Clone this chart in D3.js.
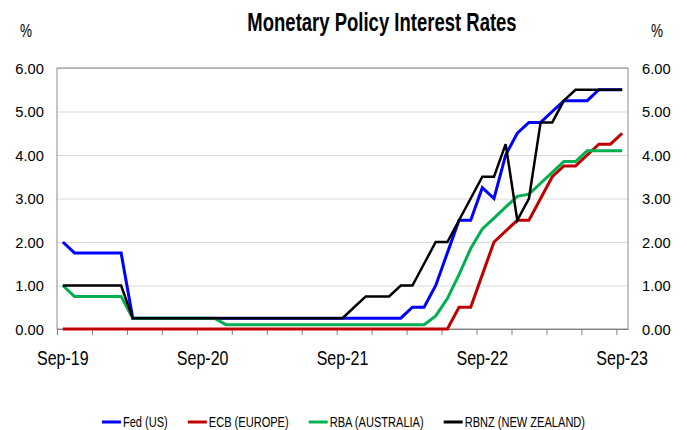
<!DOCTYPE html>
<html>
<head>
<meta charset="utf-8">
<script src="https://cdn.jsdelivr.net/npm/d3@7"></script>
<style>
  html, body { margin: 0; padding: 0; background: #fff; }
  svg { display: block; }
</style>
</head>
<body>
<div id="chart"></div>
<script>
// monthly observations, Sep-19 .. Sep-23
const months = d3.timeMonth.range(new Date(2019, 8, 1), new Date(2023, 9, 1));

const fed = [
  2.00, 1.75, 1.75, 1.75, 1.75, 1.75,
  0.25, 0.25, 0.25, 0.25, 0.25, 0.25, 0.25, 0.25, 0.25, 0.25, 0.25, 0.25,
  0.25, 0.25, 0.25, 0.25, 0.25, 0.25, 0.25, 0.25, 0.25, 0.25, 0.25, 0.25,
  0.50, 0.50, 1.00, 1.75, 2.50, 2.50, 3.25, 3.00, 4.00, 4.50, 4.75, 4.75,
  5.00, 5.25, 5.25, 5.25, 5.50, 5.50, 5.50
];
const ecb = [
  0, 0, 0, 0, 0, 0, 0, 0, 0, 0, 0, 0, 0, 0, 0, 0, 0, 0,
  0, 0, 0, 0, 0, 0, 0, 0, 0, 0, 0, 0, 0, 0, 0, 0,
  0.50, 0.50, 1.25, 2.00, 2.25, 2.50, 2.50, 3.00, 3.50, 3.75, 3.75, 4.00,
  4.25, 4.25, 4.50
];
const rba = [
  1.00, 0.75, 0.75, 0.75, 0.75, 0.75,
  0.25, 0.25, 0.25, 0.25, 0.25, 0.25, 0.25, 0.25,
  0.10, 0.10, 0.10, 0.10, 0.10, 0.10, 0.10, 0.10, 0.10, 0.10, 0.10, 0.10,
  0.10, 0.10, 0.10, 0.10, 0.10, 0.10,
  0.30, 0.70, 1.25, 1.85, 2.30, 2.55, 2.80, 3.05, 3.10, 3.35, 3.60, 3.85,
  3.85, 4.10, 4.10, 4.10, 4.10
];
const rbnz = [
  1.00, 1.00, 1.00, 1.00, 1.00, 1.00,
  0.25, 0.25, 0.25, 0.25, 0.25, 0.25, 0.25, 0.25, 0.25, 0.25, 0.25, 0.25,
  0.25, 0.25, 0.25, 0.25, 0.25, 0.25, 0.25,
  0.50, 0.75, 0.75, 0.75, 1.00, 1.00, 1.50, 2.00, 2.00, 2.50, 3.00, 3.50,
  3.50, 4.25, 2.50, 3.00, 4.75, 4.75, 5.25, 5.50, 5.50, 5.50, 5.50, 5.50
];

const seriesNames = ['Fed (US)', 'ECB (EUROPE)', 'RBA (AUSTRALIA)', 'RBNZ (NEW ZEALAND)'];
const seriesColors = ['#0000ff', '#c00000', '#00b050', '#000000'];
const yTicks = [0, 1, 2, 3, 4, 5, 6];

const W = 687, H = 430;
const plot = { left: 57, top: 68, right: 628, bottom: 329 };
const FONT = "'Liberation Sans', Arial, sans-serif";

const svg = d3.select('#chart').append('svg').attr('width', W).attr('height', H);

const x = d3.scaleBand().domain(months).range([plot.left, plot.right]).padding(0);
const xEdge = d3.scaleLinear().domain([0, months.length]).range([plot.left, plot.right]);
const y = d3.scaleLinear().domain([0, 6]).range([plot.bottom, plot.top]);
const fmtMonth = d3.timeFormat('%b-%y');

// squeezed text: the source uses a narrow face
function label(parent, tx, ty, str, size, k, anchor, weight) {
  return parent.append('text')
    .attr('transform', `translate(${tx},${ty}) scale(${k},1)`)
    .attr('text-anchor', anchor || 'start')
    .attr('font-family', FONT)
    .attr('font-size', size)
    .attr('font-weight', weight || 'normal')
    .attr('fill', '#000')
    .text(str);
}

// gridlines
svg.append('g')
  .attr('transform', `translate(${plot.left},0)`)
  .call(d3.axisLeft(y).tickValues(yTicks).tickSize(-(plot.right - plot.left)).tickFormat(''))
  .call(g => g.select('.domain').remove())
  .call(g => g.selectAll('line').attr('stroke', '#d9d9d9').attr('stroke-width', 1));

// frame
svg.append('rect')
  .attr('x', plot.left).attr('y', plot.top)
  .attr('width', plot.right - plot.left).attr('height', plot.bottom - plot.top)
  .attr('fill', 'none').attr('stroke', '#8c8c8c').attr('stroke-width', 1);

// x tick marks every quarter, on category boundaries
svg.append('g')
  .attr('transform', `translate(0,${plot.bottom})`)
  .call(d3.axisBottom(xEdge).tickValues(d3.range(0, months.length, 3)).tickSizeInner(6).tickSizeOuter(0).tickFormat(''))
  .call(g => g.select('.domain').attr('stroke', '#808080'))
  .call(g => g.selectAll('line').attr('stroke', '#808080'));

// y labels both sides
const yLab = svg.append('g');
yTicks.forEach(v => {
  label(yLab, plot.left - 13, y(v) + 5.5, d3.format('.2f')(v), 15.5, 0.95, 'end');
  label(yLab, plot.right + 14, y(v) + 5.5, d3.format('.2f')(v), 15.5, 0.95, 'start');
});

// x labels every September
const xLab = svg.append('g');
months.forEach(m => {
  if (m.getMonth() === 8) label(xLab, x(m) + x.bandwidth() / 2, 365, fmtMonth(m), 20, 0.8, 'middle');
});

// lines
const series = [fed, ecb, rba, rbnz];
const line = d3.line()
  .x((d, i) => x(months[i]) + x.bandwidth() / 2)
  .y(d => y(d));

svg.append('g')
  .selectAll('path')
  .data(series)
  .join('path')
  .attr('d', d => line(d))
  .attr('fill', 'none')
  .attr('stroke', (d, i) => seriesColors[i])
  .attr('stroke-width', (d, i) => i === 3 ? 2.5 : 3)
  .attr('stroke-linejoin', 'miter');

// title and unit markers
label(svg, 382, 31, 'Monetary Policy Interest Rates', 25, 0.74, 'middle', 'bold');
label(svg, 26, 37, '%', 18, 0.75, 'middle');
label(svg, 657, 37, '%', 18, 0.75, 'middle');

// legend
const leg = svg.append('g');
const items = seriesNames.map((name, i) => {
  const g = leg.append('g');
  g.append('line').attr('x1', 0).attr('x2', 19).attr('y1', 0).attr('y2', 0)
    .attr('stroke', seriesColors[i]).attr('stroke-width', 3);
  const t = label(g, 21, 5, name, 14, 0.79, 'start');
  return { g, w: 21 + t.node().getComputedTextLength() * 0.79 };
});
const gap = 20;
const total = d3.sum(items, d => d.w) + gap * (items.length - 1);
let cx = W / 2 - total / 2;
items.forEach(it => {
  it.g.attr('transform', `translate(${cx},422)`);
  cx += it.w + gap;
});
</script>
</body>
</html>
